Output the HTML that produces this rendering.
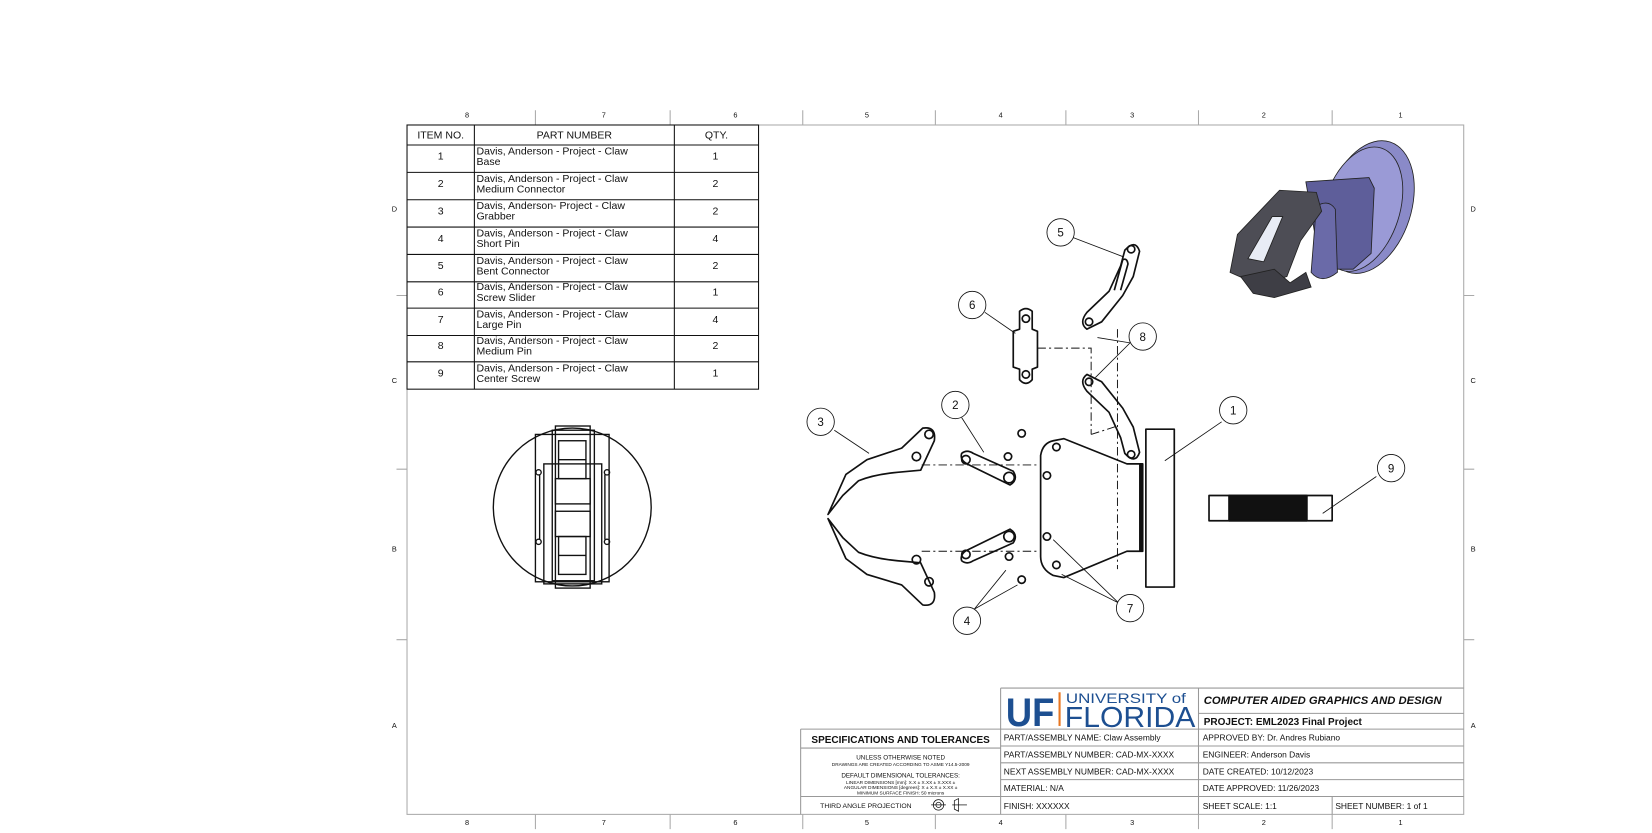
<!DOCTYPE html>
<html><head><meta charset="utf-8"><style>
html,body{margin:0;padding:0;background:#fff;}
svg{display:block}
text{font-family:"Liberation Sans",sans-serif;fill:#111}
</style></head><body>
<svg width="1652" height="833" viewBox="0 0 1652 833" xmlns="http://www.w3.org/2000/svg">
<rect width="1652" height="833" fill="#fff"/>
<g transform="translate(0.75,0.8) scale(1.0525)">
<!-- border -->
<g stroke="#aaa" stroke-width="1" fill="none">
<rect x="386" y="118" width="1004" height="655"/>
<path d="M508 104v14M636 104v14M762 104v14M888 104v14M1012 104v14M1138 104v14M1265 104v14"/>
<path d="M508 773v14M636 773v14M762 773v14M888 773v14M1012 773v14M1138 773v14M1265 773v14"/>
<path d="M376 280h10M376 445h10M376 607h10M1390 280h10M1390 445h10M1390 607h10"/>
</g>
<g font-size="7" text-anchor="middle">
<text x="443" y="111">8</text><text x="573" y="111">7</text><text x="698" y="111">6</text><text x="823" y="111">5</text><text x="950" y="111">4</text><text x="1075" y="111">3</text><text x="1200" y="111">2</text><text x="1330" y="111">1</text>
<text x="443" y="783">8</text><text x="573" y="783">7</text><text x="698" y="783">6</text><text x="823" y="783">5</text><text x="950" y="783">4</text><text x="1075" y="783">3</text><text x="1200" y="783">2</text><text x="1330" y="783">1</text>
<text x="374" y="200">D</text><text x="374" y="363">C</text><text x="374" y="523">B</text><text x="374" y="691">A</text>
<text x="1399" y="200">D</text><text x="1399" y="363">C</text><text x="1399" y="523">B</text><text x="1399" y="691">A</text>
</g>
<!-- BOM -->
<g stroke="#111" stroke-width="1" fill="none">
<rect x="386" y="118" width="334" height="251"/>
<path d="M450 118v251M640 118v251"/>
<path d="M386 137h334M386 163h334M386 189h334M386 215h334M386 241h334M386 267h334M386 292h334M386 318h334M386 343h334"/>
</g>
<g font-size="10">
<text x="418" y="131" text-anchor="middle">ITEM NO.</text><text x="545" y="131" text-anchor="middle">PART NUMBER</text><text x="680" y="131" text-anchor="middle">QTY.</text>
<g text-anchor="middle">
<text x="418" y="151">1</text><text x="418" y="177">2</text><text x="418" y="203">3</text><text x="418" y="229">4</text><text x="418" y="255">5</text><text x="418" y="280">6</text><text x="418" y="306">7</text><text x="418" y="331">8</text><text x="418" y="357">9</text>
<text x="679" y="151">1</text><text x="679" y="177">2</text><text x="679" y="203">2</text><text x="679" y="229">4</text><text x="679" y="255">2</text><text x="679" y="280">1</text><text x="679" y="306">4</text><text x="679" y="331">2</text><text x="679" y="357">1</text>
</g>
<text x="452" y="146">Davis, Anderson - Project - Claw</text><text x="452" y="156">Base</text>
<text x="452" y="172">Davis, Anderson - Project - Claw</text><text x="452" y="182">Medium Connector</text>
<text x="452" y="198">Davis, Anderson- Project - Claw</text><text x="452" y="208">Grabber</text>
<text x="452" y="224">Davis, Anderson - Project - Claw</text><text x="452" y="234">Short Pin</text>
<text x="452" y="250">Davis, Anderson - Project - Claw</text><text x="452" y="260">Bent Connector</text>
<text x="452" y="275">Davis, Anderson - Project - Claw</text><text x="452" y="285">Screw Slider</text>
<text x="452" y="301">Davis, Anderson - Project - Claw</text><text x="452" y="311">Large Pin</text>
<text x="452" y="326">Davis, Anderson - Project - Claw</text><text x="452" y="336">Medium Pin</text>
<text x="452" y="352">Davis, Anderson - Project - Claw</text><text x="452" y="362">Center Screw</text>
</g>
<!-- left end view -->
<g stroke="#111" stroke-width="1.3" fill="none">
<circle cx="543" cy="481" r="75"/>
<rect x="516" y="440" width="55" height="114"/>
<rect x="527" y="404" width="33" height="154"/>
<rect x="524" y="408" width="40" height="143"/>
<rect x="530" y="418" width="26" height="36"/><path d="M530 436h26"/>
<rect x="527" y="454" width="33" height="24"/>
<rect x="527" y="485" width="33" height="24"/>
<rect x="530" y="509" width="26" height="36"/><path d="M530 527h26"/>
<rect x="508" y="412" width="70" height="140"/>
<path d="M512 450v62M574 450v62"/>
<circle cx="511" cy="448" r="2.5"/><circle cx="576" cy="448" r="2.5"/><circle cx="511" cy="514" r="2.5"/><circle cx="576" cy="514" r="2.5"/>
</g>
<!-- exploded view -->
<g stroke="#111" stroke-width="1.6" fill="none" stroke-linejoin="round">
<path d="M786 488 L803 450 L823 436 L856 425 L876 406 Q889 404 887 418 L874 446 L852 448 Q830 450 815 456 L800 470 Z"/>
<circle cx="882" cy="412" r="4"/><circle cx="870" cy="433" r="4"/>
<path d="M786 492 L803 530 L823 545 L856 555 L876 574 Q889 576 887 562 L874 534 L852 532 Q830 530 815 524 L800 510 Z"/>
<circle cx="882" cy="552" r="4"/><circle cx="870" cy="531" r="4"/>
<path d="M913 430 Q918 426 924 430 L962 447 Q967 455 959 460 L918 440 Q911 436 913 430Z"/>
<circle cx="917" cy="436" r="4"/><circle cx="958" cy="453" r="5"/>
<path d="M913 532 Q918 536 924 532 L962 515 Q967 507 959 502 L918 522 Q911 526 913 532Z"/>
<circle cx="917" cy="526" r="4"/><circle cx="958" cy="509" r="5"/>
<circle cx="970" cy="411" r="3.5"/><circle cx="957" cy="433" r="3.5"/><circle cx="958" cy="528" r="3.5"/><circle cx="970" cy="550" r="3.5"/>
<path d="M1000 418 L1010 416 L1070 440 L1085 440 L1085 523 L1070 523 L1010 548 L1000 546 Q988 540 988 528 L988 432 Q990 420 1000 418Z"/>
<path d="M1083 440v83" stroke-width="3"/>
<circle cx="1003" cy="424" r="3.5"/><circle cx="994" cy="451" r="3.5"/><circle cx="994" cy="509" r="3.5"/><circle cx="1003" cy="536" r="3.5"/>
<rect x="1088" y="407" width="27" height="150"/>
<path d="M1068 237 Q1078 226 1082 238 L1076 262 L1066 280 L1046 305 L1032 312 Q1024 306 1032 296 L1053 276 L1064 252Z"/>
<circle cx="1074" cy="236" r="3.5"/><circle cx="1034" cy="305" r="3.5"/>
<path d="M1058 275 L1066 246 Q1070 244 1071 250 L1064 275"/>
<path d="M1068 430 Q1078 441 1082 429 L1076 405 L1066 387 L1046 362 L1032 355 Q1024 361 1032 371 L1053 391 L1064 415Z"/>
<circle cx="1074" cy="431" r="3.5"/><circle cx="1034" cy="362" r="3.5"/>
<path d="M968 295 Q974 290 980 295 L980 312 L985 314 L985 348 L980 350 L980 360 Q974 367 968 360 L968 350 L962 348 L962 314 L968 312Z"/>
<circle cx="974" cy="302" r="3.5"/><circle cx="974" cy="355" r="3.5"/>
<rect x="1148" y="470" width="117" height="24"/>
<rect x="1167" y="470" width="74" height="24" fill="#111"/>
</g>
<g stroke="#111" stroke-width="0.9" fill="none" stroke-dasharray="8 3 2 3">
<path d="M875 441H985M875 523H985M985 330H1036V412M1061 312V540M1036 412L1061 404"/>
</g>
<g stroke="#111" stroke-width="0.8" fill="none">
<path d="M1019 225L1066 243M935 296L964 316M792 408L825 430M913 396L934 429M1160 400L1106 437M1307 452L1256 487M1073 325L1040 358M1073 325L1042 320M925 578L955 541M925 578L966 555M1062 572L1000 512M1062 572L1008 545"/>
</g>
<g stroke="#111" stroke-width="0.8" fill="#fff">
<circle cx="1007" cy="220" r="13"/><circle cx="923" cy="289" r="13"/><circle cx="1085" cy="319" r="13"/><circle cx="779" cy="400" r="13"/><circle cx="907" cy="384" r="13"/><circle cx="1171" cy="389" r="13"/><circle cx="1321" cy="444" r="13"/><circle cx="918" cy="589" r="13"/><circle cx="1073" cy="577" r="13"/>
</g>
<g font-size="11" text-anchor="middle">
<text x="1007" y="224">5</text><text x="923" y="293">6</text><text x="1085" y="323">8</text><text x="779" y="404">3</text><text x="907" y="388">2</text><text x="1171" y="393">1</text><text x="1321" y="448">9</text><text x="918" y="593">4</text><text x="1073" y="581">7</text>
</g>
<!-- iso view -->
<g stroke="#222" stroke-width="0.8">
<ellipse cx="1300" cy="196" rx="40" ry="65" fill="#8a8ac8" transform="rotate(18 1300 196)"/>
<ellipse cx="1293" cy="198" rx="36" ry="61" fill="#9a9ad6" transform="rotate(18 1293 198)"/>
<path d="M1240 172L1300 168L1305 178L1302 240L1285 255L1260 255L1250 230Z" fill="#5e5e9a"/>
<path d="M1250 195Q1262 188 1268 198L1270 258Q1255 270 1245 258Z" fill="#6a6aa8"/>
<path d="M1215 180L1250 182L1255 200L1235 228L1222 262L1195 270L1168 258L1175 222Z" fill="#4d4d55"/>
<path d="M1185 245L1208 205L1218 205L1200 248Z" fill="#e8ecf5"/>
<path d="M1178 262L1210 255L1225 268L1240 258L1245 272L1210 282L1190 278Z" fill="#3e3e45"/>
</g>
<!-- title block -->
<g stroke="#999" stroke-width="1" fill="none">
<path d="M950 653H1390M950 653V773M1138 653V773M1138 677H1390M950 692H1390M950 708H1390M950 724H1390M950 740H1390M950 756H1390M1265 756V773"/>
<path d="M760 692H950M760 692V773M760 710H950M760 756H950"/>
</g>
<text x="955" y="689" font-family="Liberation Serif" font-weight="bold" font-size="38" style="fill:#1d4f91" textLength="46" lengthAdjust="spacingAndGlyphs">UF</text>
<rect x="1005" y="657" width="2" height="32" fill="#e87722"/>
<text x="1012" y="667" font-family="Liberation Serif" font-size="13" style="fill:#1d4f91" textLength="114" lengthAdjust="spacingAndGlyphs">UNIVERSITY of</text>
<text x="1011" y="690" font-family="Liberation Serif" font-size="27" style="fill:#1d4f91" textLength="124" lengthAdjust="spacingAndGlyphs">FLORIDA</text>
<g font-size="8">
<text x="1143" y="668" font-size="10.5" font-weight="bold" font-style="italic" textLength="226" lengthAdjust="spacingAndGlyphs">COMPUTER AIDED GRAPHICS AND DESIGN</text>
<text x="1143" y="688" font-size="9.5" font-weight="bold">PROJECT:  EML2023 Final Project</text>
<text x="953" y="703">PART/ASSEMBLY NAME: Claw Assembly</text>
<text x="953" y="719">PART/ASSEMBLY NUMBER: CAD-MX-XXXX</text>
<text x="953" y="735">NEXT ASSEMBLY NUMBER: CAD-MX-XXXX</text>
<text x="953" y="751">MATERIAL: N/A</text>
<text x="953" y="768">FINISH: XXXXXX</text>
<text x="1142" y="703">APPROVED BY: Dr. Andres Rubiano</text>
<text x="1142" y="719">ENGINEER: Anderson Davis</text>
<text x="1142" y="735">DATE CREATED: 10/12/2023</text>
<text x="1142" y="751">DATE APPROVED: 11/26/2023</text>
<text x="1142" y="768">SHEET SCALE: 1:1</text>
<text x="1268" y="768">SHEET NUMBER: 1 of 1</text>
</g>
<g text-anchor="middle">
<text x="855" y="705" font-size="9.5" font-weight="bold">SPECIFICATIONS AND TOLERANCES</text>
<text x="855" y="721" font-size="6">UNLESS OTHERWISE NOTED</text>
<text x="855" y="727" font-size="4.5">DRAWINGS ARE CREATED ACCORDING TO ASME Y14.5-2009</text>
<text x="855" y="738" font-size="6">DEFAULT DIMENSIONAL TOLERANCES:</text>
<text x="855" y="744" font-size="4.5">LINEAR DIMENSIONS [mm]: X.X ± X.XX ± X.XXX ±</text>
<text x="855" y="749" font-size="4.5">ANGULAR DIMENSIONS [degrees]: X ± X.X ± X.XX ±</text>
<text x="855" y="754" font-size="4.5">MINIMUM SURFACE FINISH: 50 microns</text>
<text x="822" y="767" font-size="6.5">THIRD ANGLE PROJECTION</text>
</g>
<g stroke="#111" stroke-width="0.7" fill="none">
<circle cx="891" cy="764" r="5"/><circle cx="891" cy="764" r="2.5"/><path d="M884 764h14M906 760l4-2v12l-4-2z"/><path d="M904 764h14"/>
</g>
</g>
</svg>
</body></html>
